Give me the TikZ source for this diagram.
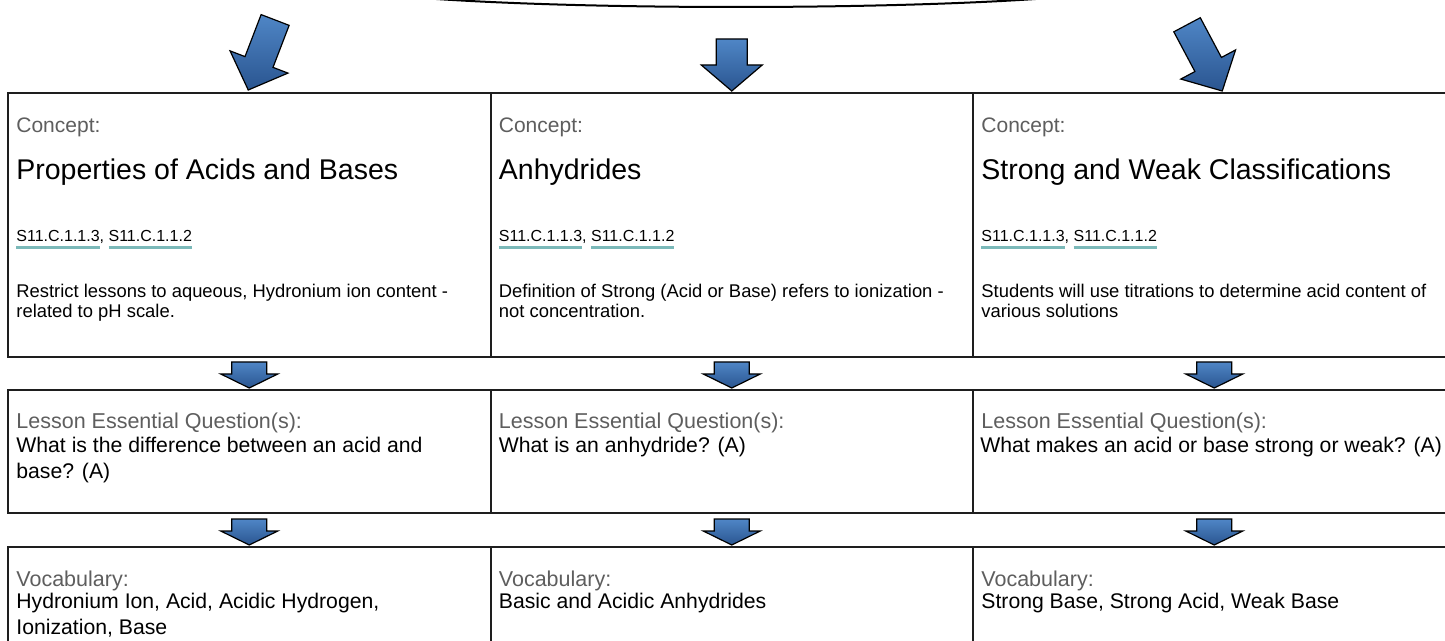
\documentclass[tikz,border=0pt]{standalone}
\usepackage{fontspec}
\setmainfont{Liberation Sans}
\usetikzlibrary{calc}

\definecolor{arrowtop}{HTML}{4F86C6}
\definecolor{arrowbot}{HTML}{2A5590}
\definecolor{labelgray}{HTML}{5E5E5E}
\definecolor{stdteal}{HTML}{7BB9B9}
\definecolor{boxline}{HTML}{1E1E1E}

\newsavebox{\stdbox}
\newcommand{\stdref}[1]{\sbox{\stdbox}{#1}\rlap{\textcolor{stdteal}{\rule[-3.75pt]{\wd\stdbox}{1.5pt}}}\usebox{\stdbox}}

\tikzset{
  panel/.style={draw=boxline,line width=1pt,minimum width=241.25pt,anchor=north west,inner sep=0pt,outer sep=0pt},
  headlbl/.style={anchor=base west,inner sep=0pt,text=labelgray,font=\fontsize{10.5}{12}\selectfont},
  cname/.style={anchor=base west,inner sep=0pt,font=\fontsize{14.25}{17}\selectfont},
  stds/.style={anchor=base west,inner sep=0pt,font=\fontsize{8}{10}\selectfont},
  cnote/.style={anchor=base west,inner sep=0pt,font=\fontsize{9.2}{11}\selectfont},
  qlbl/.style={anchor=base west,inner sep=0pt,text=labelgray,font=\fontsize{10.75}{13}\selectfont},
  qtext/.style={anchor=base west,inner sep=0pt,font=\fontsize{10.6}{13}\selectfont},
  blockarrow/.style={draw=black,line width=0.6pt,line join=miter,top color=arrowtop,bottom color=arrowbot},
  tiltarrow/.pic={\path[blockarrow] (0,0) -- (-31,-30) -- (-15,-30) -- (-15,-75) -- (15,-75) -- (15,-30) -- (31,-30) -- cycle;},
  droparrow/.pic={\path[blockarrow] (0,0) -- (-30.5,-26) -- (-15.5,-26) -- (-15.5,-52) -- (15.5,-52) -- (15.5,-26) -- (30.5,-26) -- cycle;},
  steparrow/.pic={\path[blockarrow] (0,0) -- (-28.5,-14) -- (-17.5,-14) -- (-17.5,-26) -- (17.5,-26) -- (17.5,-14) -- (28.5,-14) -- cycle;}
}

\begin{document}
\begin{tikzpicture}[x=0.5pt,y=-0.5pt]
\useasboundingbox (0,0) rectangle (1445,641);
\fill[white] (0,0) rectangle (1445,641);
\clip (0,0) rectangle (1445,641);
% lower rim of the unit shape above the page
\draw[line width=1pt] (422,-2) .. controls (585,10) and (887,10) .. (1050,-2);
% first column
\begin{scope}
  \node[panel,minimum height=132pt] (concA) at (8,93) {};
  \node[panel,minimum height=61.5pt] (questA) at (8,390) {};
  \node[panel,minimum height=71.5pt] (vocabA) at (8,547) {};
  \node[headlbl] (concAlbl) at (16,133) {Concept:};
  \node[cname] (concAname) at (16,180) {Properties of Acids and Bases};
  \node[stds] (concAstd) at (16,242) {\stdref{S11.C.1.1.3}, \stdref{S11.C.1.1.2}};
  \node[cnote] (concAnote) at (16,298) {Restrict lessons to aqueous, Hydronium ion content -};
  \node[cnote] (concAnoteb) at (16,318) {related to pH scale.};
  \node[qlbl] (questAlbl) at (16,429) {Lesson Essential Question(s):};
  \node[qtext] (questAtxt) at (16,452) {What is the difference between an acid and};
  \node[qtext] (questAtxtb) at (16,478) {base? (A)};
  \node[qlbl] (vocabAlbl) at (16,586) {Vocabulary:};
  \node[qtext] (vocabAtxt) at (16,608) {Hydronium Ion, Acid, Acidic Hydrogen,};
  \node[qtext] (vocabAtxtb) at (16,634) {Ionization, Base};
\end{scope}
% second column
\begin{scope}[shift={(482.5,0)}]
  \node[panel,minimum height=132pt] (concB) at (8,93) {};
  \node[panel,minimum height=61.5pt] (questB) at (8,390) {};
  \node[panel,minimum height=71.5pt] (vocabB) at (8,547) {};
  \node[headlbl] (concBlbl) at (16,133) {Concept:};
  \node[cname] (concBname) at (16,180) {Anhydrides};
  \node[stds] (concBstd) at (16,242) {\stdref{S11.C.1.1.3}, \stdref{S11.C.1.1.2}};
  \node[cnote] (concBnote) at (16,298) {Definition of Strong (Acid or Base) refers to ionization -};
  \node[cnote] (concBnoteb) at (16,318) {not concentration.};
  \node[qlbl] (questBlbl) at (16,429) {Lesson Essential Question(s):};
  \node[qtext] (questBtxt) at (16,452) {What is an anhydride? (A)};
  \node[qlbl] (vocabBlbl) at (16,586) {Vocabulary:};
  \node[qtext] (vocabBtxt) at (16,608) {Basic and Acidic Anhydrides};
\end{scope}
% third column, runs past the right edge
\begin{scope}[shift={(965,0)}]
  \node[panel,minimum height=132pt] (concC) at (8,93) {};
  \node[panel,minimum height=61.5pt] (questC) at (8,390) {};
  \node[panel,minimum height=71.5pt] (vocabC) at (8,547) {};
  \node[headlbl] (concClbl) at (16,133) {Concept:};
  \node[cname] (concCname) at (16,180) {Strong and Weak Classifications};
  \node[stds] (concCstd) at (16,242) {\stdref{S11.C.1.1.3}, \stdref{S11.C.1.1.2}};
  \node[cnote] (concCnote) at (16,298) {Students will use titrations to determine acid content of};
  \node[cnote] (concCnoteb) at (16,318) {various solutions};
  \node[qlbl] (questClbl) at (16,429) {Lesson Essential Question(s):};
  \node[qtext] (questCtxt) at (15,452) {What makes an acid or base strong or weak? (A)};
  \node[qlbl] (vocabClbl) at (16,586) {Vocabulary:};
  \node[qtext] (vocabCtxt) at (16,608) {Strong Base, Strong Acid, Weak Base};
\end{scope}
% arrows into the concept boxes
\pic[rotate=-21] at ($(concA.north)+(-1,-3)$) {tiltarrow};
\pic at ($(concB.north)+(0,-2)$) {droparrow};
\pic[rotate=28] at ($(concC.north)+(8,-2)$) {tiltarrow};
% arrows between the rows
\pic at ($(questA.north)+(0,-2)$) {steparrow};
\pic at ($(questB.north)+(0,-2)$) {steparrow};
\pic at ($(questC.north)+(0,-2)$) {steparrow};
\pic at ($(vocabA.north)+(0,-2)$) {steparrow};
\pic at ($(vocabB.north)+(0,-2)$) {steparrow};
\pic at ($(vocabC.north)+(0,-2)$) {steparrow};
\end{tikzpicture}
\end{document}
